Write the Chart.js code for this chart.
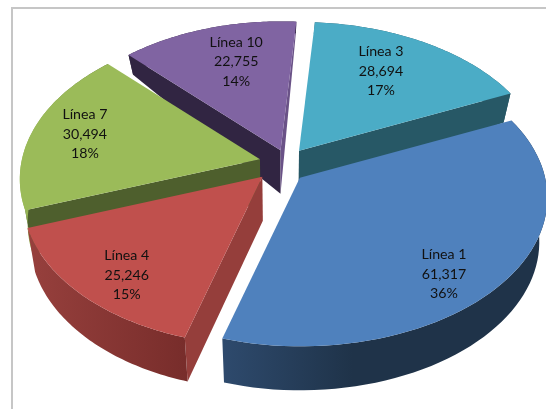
<!DOCTYPE html>
<html>
<head>
<meta charset="utf-8">
<script src="https://cdn.jsdelivr.net/npm/chart.js@4/dist/chart.umd.min.js"></script>
<style>
    html, body { margin: 0; background: #fff; overflow: hidden; }
    #frame { position: absolute; left: 11px; top: 7px; width: 540px; height: 410px; border-top: 2px solid #c6c6c6; border-left: 2px solid #c6c6c6; }
    canvas { position: absolute; left: 0; top: 0; }
</style>
</head>
<body>
<div id="frame"></div>
<canvas id="pie3d" width="546" height="409"></canvas>
<script>
const categories = ['Línea 1', 'Línea 4', 'Línea 7', 'Línea 10', 'Línea 3'];
const values = [61317, 25246, 30494, 22755, 28694];
const percents = ['36%', '15%', '18%', '14%', '17%'];

const topColors = ['#4F81BD', '#C0504D', '#9BBB59', '#8064A2', '#4BACC6'];
const darkSides = ['#1F3349', '#6E2A28', '#4E5F2D', '#312542', '#275866'];
const litSides = ['#2E4A6D', '#953E3B', '#7C9647', '#6A5287', '#3C8A9E'];
const rimLeft = ['#2E4A6D', '#97403D', '#9BBB59', '#312542', '#275866'];
const rimRight = ['#1F3349', '#782D2B', '#4E5F2D', '#312542', '#275866'];
const explode = [15, 11, 13, 19, 22];
// the exploded slices in the original don't sit exactly on their mid angle
const sliceShift = [[0, 1], [-3, 2], [1, -4], [11, 0], [1, 1]];
// small nudges so the labels sit where the original put them
const labelNudge = [[-2, 21], [-5, 14], [-13, -2], [8, -1], [-9, -2]];

const perspective = 0.134;

// rim of the tilted disc, relative to the slice apex
const shape = (r, t) => {
    const d = 1 - perspective * Math.sin(t);
    const aspect = Math.cos(t) > 0 ? 1.68 : 1.63;
    return { x: aspect * r * Math.cos(t) / d, y: r * Math.sin(t) / d };
};

// where a point of the top face ends up on the bottom face
const drop = (p, cx) => ({
    x: p.x + (cx - p.x) * 0.03,
    y: p.y + Math.min(44, 6 + 0.25 * p.y)
});

const fillPoly = (ctx, pts, fill) => {
    ctx.beginPath();
    pts.forEach((p, i) => i ? ctx.lineTo(p.x, p.y) : ctx.moveTo(p.x, p.y));
    ctx.closePath();
    ctx.fillStyle = fill;
    ctx.fill();
};

const area = pts => pts.reduce((sum, p, i) => {
    const q = pts[(i + 1) % pts.length];
    return sum + p.x * q.y - q.x * p.y;
}, 0);

const sliceGeometry = (arc, i) => {
    const r = arc.outerRadius;
    const mid = (arc.startAngle + arc.endAngle) / 2;
    const b = arc.options.offset / r;
    const m = shape(r, mid);
    const apex = { x: arc.x + b * m.x + sliceShift[i][0], y: arc.y + b * m.y + sliceShift[i][1] };
    const rim = [];
    for (let n = 0; n <= 60; n++) {
        const t = arc.startAngle + (arc.endAngle - arc.startAngle) * n / 60;
        const s = shape(r, t);
        rim.push({ x: apex.x + s.x, y: apex.y + s.y });
    }
    return { apex, rim, mid };
};

const drawFace = (ctx, i, apex, edge, cx, wanted) => {
    const face = [apex, edge, drop(edge, cx), drop(apex, cx)];
    if (area(face) * wanted <= 0) return;
    const steep = Math.abs(edge.x - apex.x) < Math.abs(edge.y - apex.y);
    fillPoly(ctx, face, steep ? litSides[i] : darkSides[i]);
};

const pie3dPlugin = {
    id: 'pie3d',
    beforeDatasetDraw(chart) {
        const ctx = chart.ctx;
        const arcs = chart.getDatasetMeta(0).data;
        // back slices first, the big front slice last
        [4, 3, 2, 1, 0].forEach(i => {
            const arc = arcs[i];
            const { apex, rim } = sliceGeometry(arc, i);
            drawFace(ctx, i, apex, rim[0], arc.x, -1);
            drawFace(ctx, i, apex, rim[rim.length - 1], arc.x, 1);

            const xs = rim.map(p => p.x);
            const grad = ctx.createLinearGradient(Math.min(...xs), 0, Math.max(...xs), 0);
            grad.addColorStop(0, rimLeft[i]);
            grad.addColorStop(i === 0 ? 0.4 : 1, rimRight[i]);
            fillPoly(ctx, rim.concat(rim.map(p => drop(p, arc.x)).reverse()), grad);

            fillPoly(ctx, [apex].concat(rim), topColors[i]);
        });

        ctx.fillStyle = '#111';
        ctx.font = '14.2px Lato';
        ctx.textAlign = 'center';
        ctx.textBaseline = 'middle';
        arcs.forEach((arc, i) => {
            const { apex, mid } = sliceGeometry(arc, i);
            const s = shape(arc.outerRadius, mid);
            const x = apex.x + 0.72 * s.x + labelNudge[i][0];
            const y = apex.y + 0.72 * s.y + labelNudge[i][1];
            const lines = [categories[i], values[i].toLocaleString('en-US'), percents[i]];
            lines.forEach((text, n) => ctx.fillText(text, x, y + (n - 1) * 19.5));
        });
        return false;
    }
};

new Chart(document.getElementById('pie3d').getContext('2d'), {
    type: 'pie',
    data: {
        labels: categories,
        datasets: [{
            data: values,
            backgroundColor: topColors,
            borderWidth: 0,
            offset: explode
        }]
    },
    options: {
        responsive: false,
        animation: false,
        rotation: 65.5,
        radius: 146,
        layout: { padding: { left: 12, bottom: 77 } },
        plugins: { legend: { display: false }, tooltip: { enabled: false } }
    },
    plugins: [pie3dPlugin]
});
</script>
</body>
</html>
